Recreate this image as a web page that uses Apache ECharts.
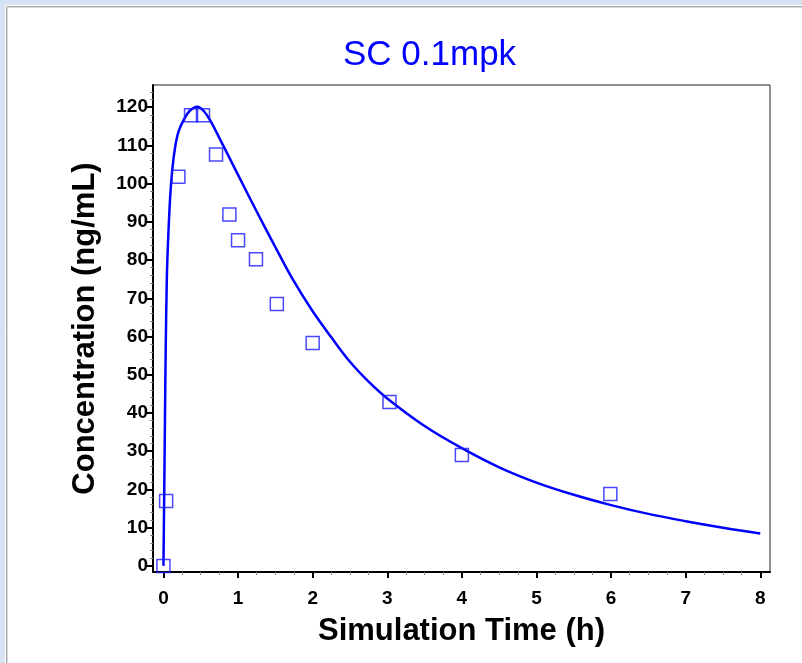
<!DOCTYPE html>
<html>
<head>
<meta charset="utf-8">
<script src="https://cdn.jsdelivr.net/npm/echarts@6/dist/echarts.min.js"></script>
<style>
  html, body { margin: 0; padding: 0; background: #fff; }
  #chart { width: 802px; height: 663px; }
</style>
</head>
<body>
<div id="chart"></div>
<script>
// observed concentrations (squares)
const obsTime = [0, 0.036, 0.2, 0.37, 0.53, 0.705, 0.884, 1.0, 1.24, 1.52, 2.0, 3.03, 4.0, 5.99]
const obsConc = [0, 17.0, 101.8, 117.9, 117.9, 107.6, 91.9, 85.2, 80.2, 68.5, 58.3, 42.9, 29.0, 18.8]

// simulated curve
const simTime = [0, 0.01, 0.02, 0.03, 0.045, 0.06, 0.09, 0.12, 0.157, 0.2, 0.27, 0.35, 0.455, 0.54, 0.625, 0.8, 1.0, 1.25, 1.5, 1.72, 2.0, 2.25, 2.5, 2.75, 3.0, 3.5, 4.0, 4.5, 5.0, 5.5, 6.0, 6.5, 7.0, 7.5, 8.0]
const simConc = [0, 18, 38, 56, 74.8, 84, 96.5, 104, 109.6, 113.5, 116.6, 119, 120.1, 119, 116.6, 110.0, 102.3, 92.7, 83.4, 75.4, 66.6, 59.8, 53.4, 48.2, 43.8, 36.6, 30.8, 25.8, 21.8, 18.6, 15.9, 13.6, 11.7, 10.0, 8.5]

const xTicks = [0, 1, 2, 3, 4, 5, 6, 7, 8]
const yTicks = [0, 10, 20, 30, 40, 50, 60, 70, 80, 90, 100, 110, 120]
const xMinor = []
for (let i = 0; i < 32; i++) if (i % 4) xMinor.push(i / 4)
const yMinor = []
for (let v = 2; v < 126; v += 2) if (v % 10) yMinor.push(v)

const xMin = -0.14, xMax = 8.13
const yMin = -1.6, yMax = 125.8

const chart = echarts.init(document.getElementById('chart'))

const font = 'Liberation Sans, Arial, sans-serif'
const labelFont = { fontFamily: font, fontWeight: 'bold', fontSize: 19, color: '#000' }

chart.setOption({
  animation: false,
  backgroundColor: '#fff',
  graphic: [
    { type: 'rect', shape: { x: 0, y: 0, width: 802, height: 5 }, style: { fill: '#d5e3f3' } },
    { type: 'rect', shape: { x: 0, y: 0, width: 5, height: 663 }, style: { fill: '#d5e3f3' } },
    { type: 'line', shape: { x1: 6.5, y1: 6.5, x2: 802, y2: 6.5 }, style: { stroke: '#a8a8a8', lineWidth: 1 } },
    { type: 'line', shape: { x1: 6.5, y1: 6.5, x2: 6.5, y2: 663 }, style: { stroke: '#a8a8a8', lineWidth: 1 } },
    { type: 'line', shape: { x1: 7.5, y1: 7.5, x2: 802, y2: 7.5 }, style: { stroke: '#d8d8d8', lineWidth: 1 } },
    { type: 'line', shape: { x1: 7.5, y1: 7.5, x2: 7.5, y2: 663 }, style: { stroke: '#d8d8d8', lineWidth: 1 } }
  ],
  title: {
    text: 'SC 0.1mpk',
    left: 338,
    top: 33,
    textStyle: { fontFamily: font, fontWeight: 'normal', fontSize: 35, color: '#0000ff' }
  },
  grid: {
    left: 153, top: 85, right: 32, bottom: 91,
    show: true, borderColor: '#222', borderWidth: 1, backgroundColor: '#fff'
  },
  xAxis: [
    {
      type: 'value', min: xMin, max: xMax,
      name: 'Simulation Time (h)', nameLocation: 'middle', nameGap: 44,
      nameTextStyle: { fontFamily: font, fontWeight: 'bold', fontSize: 31, color: '#000' },
      axisLine: { show: true, onZero: false, lineStyle: { color: '#000', width: 2 } },
      axisTick: { show: true, customValues: xTicks, length: 6, lineStyle: { color: '#000', width: 2 } },
      axisLabel: Object.assign({ customValues: xTicks, margin: 17 }, labelFont),
      splitLine: { show: false }
    },
    {
      type: 'value', min: xMin, max: xMax, position: 'bottom',
      axisLine: { show: false, onZero: false },
      axisTick: { show: true, customValues: xMinor, length: 3, lineStyle: { color: '#888', width: 1 } },
      axisLabel: { show: false },
      splitLine: { show: false }
    }
  ],
  yAxis: [
    {
      type: 'value', min: yMin, max: yMax,
      name: 'Concentration (ng/mL)', nameLocation: 'middle', nameGap: 52,
      nameTextStyle: { fontFamily: font, fontWeight: 'bold', fontSize: 31, color: '#000' },
      axisLine: { show: true, onZero: false, lineStyle: { color: '#000', width: 2 } },
      axisTick: { show: true, customValues: yTicks, length: 6, lineStyle: { color: '#000', width: 2 } },
      axisLabel: Object.assign({ customValues: yTicks, margin: 5 }, labelFont),
      splitLine: { show: false }
    },
    {
      type: 'value', min: yMin, max: yMax, position: 'left',
      axisLine: { show: false, onZero: false },
      axisTick: { show: true, customValues: yMinor, length: 3, lineStyle: { color: '#888', width: 1 } },
      axisLabel: { show: false },
      splitLine: { show: false }
    }
  ],
  series: [
    {
      name: 'Simulated',
      type: 'line',
      smooth: 0.35,
      showSymbol: false,
      lineStyle: { color: '#0000ff', width: 2.5 },
      data: simTime.map((t, i) => [t, simConc[i]]),
      z: 3
    },
    {
      name: 'Observed',
      type: 'scatter',
      symbol: 'rect',
      symbolSize: 13,
      itemStyle: { color: 'transparent', borderColor: '#1a1aff', borderWidth: 1.5 },
      data: obsTime.map((t, i) => [t, obsConc[i]]),
      z: 4
    }
  ]
})
</script>
</body>
</html>
